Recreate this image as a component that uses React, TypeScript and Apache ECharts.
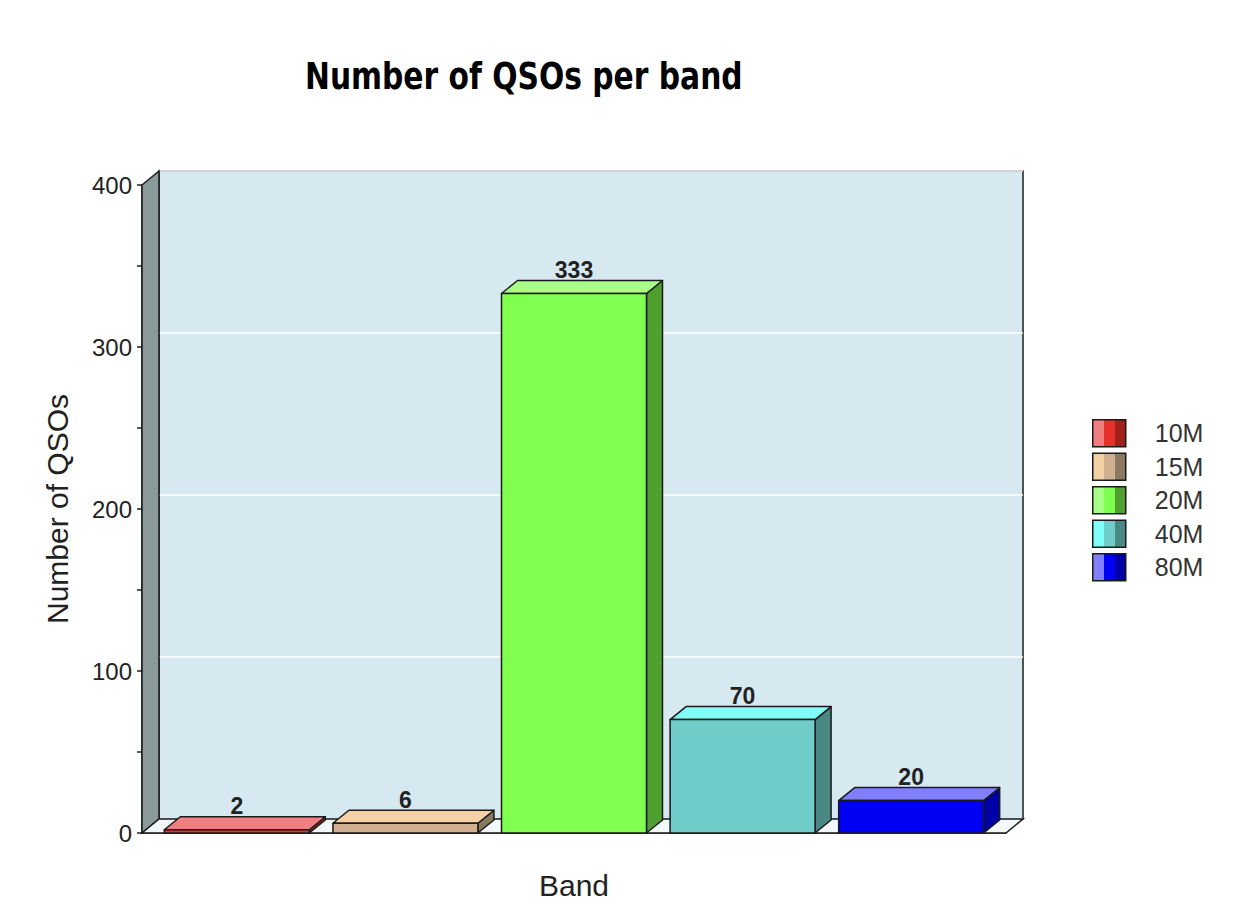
import React, { useEffect, useRef } from "react";
import * as echarts from "echarts";

const categories = ["10M", "15M", "20M", "40M", "80M"];
const values = [2, 6, 333, 70, 20];
const lightColors = ["#f08080", "#f5d0a5", "#a8ff88", "#80fff8", "#8080ff"];
const midColors = ["#e8302a", "#d0b090", "#80ff50", "#70ccc8", "#0000f4"];
const darkColors = ["#a0201a", "#8a7860", "#50a030", "#4a8884", "#0000a8"];
const yMax = 400;
const yInterval = 50;
const yLabelStep = 100;

const FRONT = { left: 142, top: 185, width: 864, height: 648 };
const X_PAD = 0.5625;
const WALL_DX = 17;
const WALL_DY = -14;
const BAR_DX = 16;
const BAR_DY = -13;
const STROKE = "#1a1a1a";

function stripGradient(i: number) {
  return new echarts.graphic.LinearGradient(0, 0, 1, 0, [
    { offset: 0, color: lightColors[i] },
    { offset: 0.33, color: lightColors[i] },
    { offset: 0.33, color: midColors[i] },
    { offset: 0.66, color: midColors[i] },
    { offset: 0.66, color: darkColors[i] },
    { offset: 1, color: darkColors[i] },
  ]);
}

export default function App() {
  const ref = useRef<HTMLDivElement>(null);
  useEffect(() => {
    if (!ref.current) return;
    const chart = echarts.init(ref.current, undefined, { renderer: "svg" });
    const fl = FRONT.left;
    const ft = FRONT.top;
    const fr = FRONT.left + FRONT.width;
    const fb = FRONT.top + FRONT.height;

    const series: any[] = categories.map((name, i) => ({
      name,
      type: "custom",
      xAxisIndex: 0,
      yAxisIndex: 0,
      z: 3,
      data: [[i, values[i]]],
      renderItem: (params: any, api: any) => {
        const cat = api.value(0);
        const val = api.value(1);
        const top = api.coord([cat, val]);
        const bot = api.coord([cat, 0]);
        const bw = api.size([1, 0])[0] * 0.86;
        const x0 = top[0] - bw / 2;
        const x1 = top[0] + bw / 2;
        const yT = top[1];
        const yB = bot[1];
        const ls = { stroke: STROKE, lineWidth: 1.5, lineJoin: "round" };
        return {
          type: "group",
          children: [
            {
              type: "polygon",
              shape: { points: [[x1, yT], [x1 + BAR_DX, yT + BAR_DY], [x1 + BAR_DX, yB + BAR_DY], [x1, yB]] },
              style: { fill: darkColors[i], ...ls },
            },
            {
              type: "polygon",
              shape: { points: [[x0, yT], [x0 + BAR_DX, yT + BAR_DY], [x1 + BAR_DX, yT + BAR_DY], [x1, yT]] },
              style: { fill: lightColors[i], ...ls },
            },
            {
              type: "rect",
              shape: { x: x0, y: yT, width: bw, height: yB - yT },
              style: { fill: midColors[i], ...ls },
            },
            {
              type: "text",
              style: {
                text: String(val),
                x: top[0],
                y: yT + BAR_DY + 1,
                align: "center",
                verticalAlign: "bottom",
                fill: "#222222",
                font: "bold 23px 'Liberation Sans', Arial, sans-serif",
              },
            },
          ],
        };
      },
    }));

    chart.setOption({
      animation: false,
      backgroundColor: "#ffffff",
      legend: {
        orient: "vertical",
        left: 1092,
        top: 419,
        padding: 0,
        itemWidth: 33,
        itemHeight: 27,
        itemGap: 5,
        selectedMode: false,
        data: categories.map((name, i) => ({
          name,
          icon: "rect",
          itemStyle: { color: stripGradient(i), borderColor: STROKE, borderWidth: 1.5 },
        })),
        textStyle: {
          fontSize: 25,
          lineHeight: 27,
          color: "#333333",
          fontFamily: "'Liberation Sans', Arial, sans-serif",
          padding: [0, 0, 0, 24],
        },
      },
      grid: [
        { left: fl, top: ft, width: FRONT.width, height: FRONT.height, show: false },
        {
          left: fl + WALL_DX,
          top: ft + WALL_DY,
          width: FRONT.width,
          height: FRONT.height,
          show: true,
          backgroundColor: "#d6e8f0",
          borderColor: STROKE,
          borderWidth: 1.5,
        },
      ],
      xAxis: [
        {
          gridIndex: 0,
          type: "value",
          min: -X_PAD,
          max: categories.length - 1 + X_PAD,
          axisLabel: { show: false },
          axisTick: { show: false },
          splitLine: { show: false },
          axisLine: { show: true, onZero: false, lineStyle: { color: "#333333", width: 1.5 } },
          name: "Band",
          nameLocation: "middle",
          nameGap: 37,
          nameTextStyle: { fontSize: 30, color: "#222222", fontFamily: "'Liberation Sans', Arial, sans-serif" },
        },
        {
          gridIndex: 1,
          type: "value",
          min: -X_PAD,
          max: categories.length - 1 + X_PAD,
          show: false,
        },
      ],
      yAxis: [
        {
          gridIndex: 0,
          type: "value",
          min: 0,
          max: yMax,
          interval: yInterval,
          axisLine: { show: true, onZero: false, lineStyle: { color: "#222222", width: 1.5 } },
          axisTick: { show: true, length: 5, lineStyle: { color: "#222222", width: 1.5 } },
          axisLabel: {
            formatter: (v: number) => (v % yLabelStep === 0 ? String(v) : ""),
            fontSize: 24,
            color: "#222222",
            margin: 10,
            fontFamily: "'Liberation Sans', Arial, sans-serif",
          },
          splitLine: { show: false },
          name: "Number of QSOs",
          nameLocation: "middle",
          nameRotate: 90,
          nameGap: 70,
          nameTextStyle: { fontSize: 30, color: "#222222", fontFamily: "'Liberation Sans', Arial, sans-serif" },
        },
        {
          gridIndex: 1,
          type: "value",
          min: 0,
          max: yMax,
          interval: yLabelStep,
          axisLine: { show: false },
          axisTick: { show: false },
          axisLabel: { show: false },
          splitLine: { show: true, lineStyle: { color: "#ffffff", width: 1.5 } },
        },
      ],
      graphic: [
        {
          type: "text",
          x: 305,
          y: 76,
          scaleX: 0.875,
          scaleY: 1.1,
          z: 5,
          style: {
            text: "Number of QSOs per band",
            x: 0,
            y: 0,
            align: "left",
            verticalAlign: "middle",
            fill: "#000000",
            font: "bold 34px 'DejaVu Sans', sans-serif",
          },
        },
        {
          type: "polygon",
          z: 1,
          shape: { points: [[fl, ft], [fl + WALL_DX, ft + WALL_DY], [fl + WALL_DX, fb + WALL_DY], [fl, fb]] },
          style: { fill: "#8a9a9a", stroke: STROKE, lineWidth: 1.5 },
        },
        {
          type: "polygon",
          z: 1,
          shape: { points: [[fl, fb], [fl + WALL_DX, fb + WALL_DY], [fr + WALL_DX, fb + WALL_DY], [fr, fb]] },
          style: { fill: "#f2f9fb", stroke: STROKE, lineWidth: 1.5 },
        },
      ],
      series,
    });
    return () => chart.dispose();
  }, []);
  return <div ref={ref} style={{ position: "fixed", left: 0, top: 0, width: 1260, height: 923 }} />;
}
